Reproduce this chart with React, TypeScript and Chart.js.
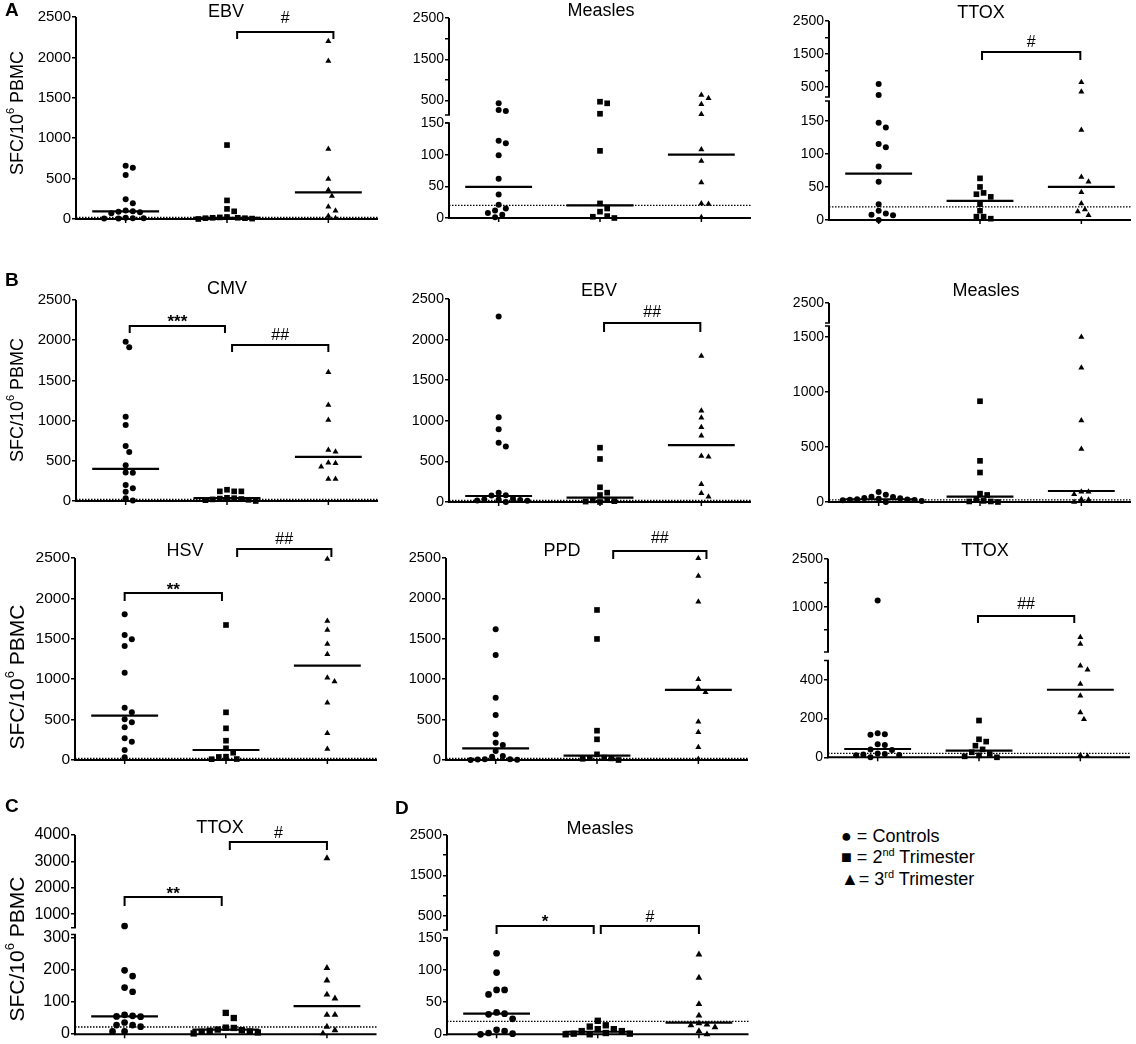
import React, { useEffect, useRef } from 'react';
import { Chart, registerables, LinearScale } from 'chart.js';

Chart.register(...registerables);

const FONT = "'Liberation Sans', Arial, Helvetica, sans-serif";

// ---------- categories & constants ----------
const groups = ['Controls', '2nd Trimester', '3rd Trimester'];
const cutoff = 20;

// ---------- data (SFC / 10^6 PBMC) ----------
// A – EBV
const aEbvControls = [660, 635, 545, 245, 195, 105, 95, 90, 85, 70, 15, 10, 10, 5, 5];
const aEbvSecond = [915, 230, 125, 95, 25, 20, 15, 15, 10, 10, 5, 0];
const aEbvThird = [2200, 1956, 867, 495, 359, 285, 152, 103, 37, 10];
const aEbvMedians = [95, 15, 330];
// A – Measles
const aMeaControls = [433, 271, 247, 122, 118, 99, 62, 37, 21, 15, 12, 8, 5, 1];
const aMeaSecond = [472, 433, 180, 106, 23, 15, 10, 3, 2, 0];
const aMeaThird = [634, 554, 409, 167, 108, 90, 56, 23, 22, 1];
const aMeaMedians = [49, 20, 100];
// A – TTOX
const aTtoxControls = [594, 260, 147, 140, 115, 110, 81, 58, 24, 14, 10, 8, 7, 0];
const aTtoxSecond = [63, 50, 41, 39, 35, 24, 14, 5, 5, 2];
const aTtoxThird = [645, 360, 136, 65, 58, 42, 25, 16, 13, 7];
const aTtoxMedians = [70, 29, 50];
// B – CMV
const bCmvControls = [1982, 1912, 1049, 945, 684, 609, 444, 355, 352, 199, 158, 116, 33, 5];
const bCmvSecond = [140, 120, 120, 120, 40, 35, 30, 25, 20, 15, 10, 0];
const bCmvThird = [1601, 1194, 1008, 634, 613, 477, 469, 427, 274, 274];
const bCmvMedians = [400, 35, 550];
// B – EBV
const bEbvControls = [2283, 1043, 895, 731, 682, 115, 82, 80, 40, 30, 30, 25, 20, 15, 0];
const bEbvSecond = [669, 530, 181, 115, 86, 30, 20, 10, 5, 0];
const bEbvThird = [1799, 1125, 1039, 920, 817, 567, 558, 218, 107, 66];
const bEbvMedians = [74, 53, 700];
// B – Measles
const bMeaControls = [92, 65, 48, 45, 36, 35, 30, 25, 22, 20, 18, 15, 10, 0];
const bMeaSecond = [916, 374, 268, 76, 64, 25, 10, 5, 5, 0];
const bMeaThird = [1500, 1221, 740, 481, 94, 94, 70, 25, 20, 0];
const bMeaMedians = [25, 48, 100];
// B – HSV
const bHsvControls = [1804, 1547, 1494, 1411, 1081, 648, 590, 504, 467, 405, 268, 227, 124, 33];
const bHsvSecond = [1671, 590, 392, 239, 145, 90, 41, 38, 12, 10];
const bHsvThird = [2488, 1721, 1609, 1436, 1308, 1019, 970, 710, 330, 136];
const bHsvMedians = [550, 124, 1168];
// B – PPD
const bPpdControls = [1618, 1300, 771, 557, 318, 214, 186, 111, 50, 41, 10, 8, 5, 3, 0];
const bPpdSecond = [1857, 1498, 363, 256, 70, 30, 25, 20, 15, 0];
const bPpdThird = [2497, 2278, 1960, 999, 895, 838, 474, 343, 157, 12];
const bPpdMedians = [144, 53, 867];
// B – TTOX
const bTtoxControls = [1200, 124, 119, 116, 67, 64, 40, 38, 20, 17, 15, 12, 10, 0];
const bTtoxSecond = [190, 93, 81, 60, 41, 26, 17, 10, 5, 0];
const bTtoxThird = [663, 589, 473, 452, 378, 318, 231, 197, 10, 5];
const bTtoxMedians = [43, 34, 349];
// C – TTOX
const cTtoxControls = [550, 197, 179, 143, 130, 58, 55, 53, 52, 34, 26, 26, 21, 6, 6];
const cTtoxSecond = [64, 48, 18, 17, 12, 10, 8, 6, 5, 3, 0];
const cTtoxThird = [3121, 204, 165, 121, 109, 58, 58, 21, 10, 0];
const cTtoxMedians = [53, 12, 85];
// D – Measles
const dMeaControls = [126, 96, 69, 69, 62, 34, 32, 31, 24, 7, 5, 2, 1, 0];
const dMeaSecond = [21, 14, 12, 8, 8, 5, 5, 2, 1, 1, 0, 0];
const dMeaThird = [124, 88, 47, 29, 17, 15, 14, 11, 5, 0];
const dMeaMedians = [32, 4, 18];

// tick values
const ticksFull = [0, 500, 1000, 1500, 2000, 2500];
const ticksBroken150 = [0, 50, 100, 150, 500, 1000, 1500, 2000, 2500];
const minorBroken150 = [1000, 2000];
const ticksBMeasles = [0, 500, 1000, 1500, 2500];
const ticksBTtox = [0, 200, 400, 750, 1000, 1750, 2500];
const minorBTtox = [750, 1750];
const ticksCTtox = [0, 100, 200, 300, 1000, 2000, 3000, 4000];

// ---------- broken axis support ----------
type Seg = { v: number[]; y: number[] };

function valueToPageY(segs: Seg[], value: number): number {
  let seg = segs.find((s) => value >= s.v[0] && value <= s.v[s.v.length - 1]);
  if (!seg) seg = value < segs[0].v[0] ? segs[0] : segs[segs.length - 1];
  const { v, y } = seg;
  let i = 0;
  while (i < v.length - 2 && value > v[i + 1]) i++;
  const t = (value - v[i]) / (v[i + 1] - v[i]);
  return y[i] + t * (y[i + 1] - y[i]);
}

const segStore = new WeakMap<HTMLCanvasElement, { segs: Seg[]; yTop: number; y0: number }>();

class BrokenScale extends (LinearScale as any) {
  static id = 'broken';
  static defaults = (LinearScale as any).defaults;
  getPixelForValue(value: number) {
    const info = segStore.get((this as any).chart.canvas);
    if (!info || value == null || isNaN(value)) return super.getPixelForValue(value);
    const py = valueToPageY(info.segs, value);
    return (this as any).getPixelForDecimal((info.y0 - py) / (info.y0 - info.yTop));
  }
}
Chart.register(BrokenScale as any);

// ---------- panel layout ----------
type Bracket = { x1: number; x2: number; y: number; leg: number; text: string; ty: number };
type Panel = {
  title: string; tx: number; ty: number;
  data: number[][]; med: number[];
  axisX: number; yTop: number; y0: number; top: number; bottom: number;
  segs: Seg[]; ticks: number[]; minor: number[]; tickSize: number;
  brackets: Bracket[];
  yTitle?: { x: number; y: number; size: number };
  pt: number;
};

const panels: Panel[] = [
  {
    title: 'EBV', tx: 226, ty: 12.5, data: [aEbvControls, aEbvSecond, aEbvThird], med: aEbvMedians,
    axisX: 76, yTop: 17, y0: 219, top: 0, bottom: 240,
    segs: [{ v: [0, 2500], y: [219, 17] }], ticks: ticksFull, minor: [], tickSize: 15,
    brackets: [{ x1: 1.1, x2: 2.05, y: 32, leg: 7, text: '#', ty: 19 }],
    yTitle: { x: 18, y: 113, size: 18 }, pt: 1,
  },
  {
    title: 'Measles', tx: 601, ty: 11, data: [aMeaControls, aMeaSecond, aMeaThird], med: aMeaMedians,
    axisX: 449, yTop: 18, y0: 218, top: 0, bottom: 240,
    segs: [{ v: [0, 150], y: [218, 123] }, { v: [150, 2500], y: [115, 18] }],
    ticks: ticksBroken150, minor: minorBroken150, tickSize: 14,
    brackets: [], pt: 1,
  },
  {
    title: 'TTOX', tx: 981, ty: 13, data: [aTtoxControls, aTtoxSecond, aTtoxThird], med: aTtoxMedians,
    axisX: 829, yTop: 21, y0: 220, top: 0, bottom: 240,
    segs: [{ v: [0, 180], y: [220, 101] }, { v: [200, 2500], y: [97, 21] }],
    ticks: ticksBroken150, minor: minorBroken150, tickSize: 14,
    brackets: [{ x1: 1.02, x2: 1.99, y: 52, leg: 8, text: '#', ty: 43 }], pt: 1,
  },
  {
    title: 'CMV', tx: 227, ty: 289, data: [bCmvControls, bCmvSecond, bCmvThird], med: bCmvMedians,
    axisX: 76, yTop: 300, y0: 501, top: 272, bottom: 520,
    segs: [{ v: [0, 2500], y: [501, 300] }], ticks: ticksFull, minor: [], tickSize: 15,
    brackets: [
      { x1: 0.04, x2: 0.98, y: 326, leg: 7, text: '***', ty: 318 },
      { x1: 1.05, x2: 2.0, y: 345, leg: 7, text: '##', ty: 336 },
    ],
    yTitle: { x: 18, y: 400, size: 18 }, pt: 1,
  },
  {
    title: 'EBV', tx: 599, ty: 291, data: [bEbvControls, bEbvSecond, bEbvThird], med: bEbvMedians,
    axisX: 449, yTop: 299, y0: 502, top: 272, bottom: 520,
    segs: [{ v: [0, 2500], y: [502, 299] }], ticks: ticksFull, minor: [], tickSize: 14.5,
    brackets: [{ x1: 1.04, x2: 1.99, y: 323, leg: 9, text: '##', ty: 313 }], pt: 1,
  },
  {
    title: 'Measles', tx: 986, ty: 291, data: [bMeaControls, bMeaSecond, bMeaThird], med: bMeaMedians,
    axisX: 829, yTop: 303, y0: 502, top: 272, bottom: 520,
    segs: [{ v: [0, 1600], y: [502, 326] }, { v: [2300, 2500], y: [323, 303] }],
    ticks: ticksBMeasles, minor: [], tickSize: 14,
    brackets: [], pt: 1,
  },
  {
    title: 'HSV', tx: 185, ty: 551, data: [bHsvControls, bHsvSecond, bHsvThird], med: bHsvMedians,
    axisX: 75, yTop: 558, y0: 760, top: 525, bottom: 778,
    segs: [{ v: [0, 2500], y: [760, 558] }], ticks: ticksFull, minor: [], tickSize: 15.5,
    brackets: [
      { x1: 1.11, x2: 2.04, y: 549, leg: 8, text: '##', ty: 540 },
      { x1: 0, x2: 0.96, y: 593, leg: 8, text: '**', ty: 586 },
    ],
    yTitle: { x: 18, y: 677, size: 21 }, pt: 1,
  },
  {
    title: 'PPD', tx: 562, ty: 551, data: [bPpdControls, bPpdSecond, bPpdThird], med: bPpdMedians,
    axisX: 446, yTop: 558, y0: 760, top: 525, bottom: 778,
    segs: [{ v: [0, 2500], y: [760, 558] }], ticks: ticksFull, minor: [], tickSize: 14.5,
    brackets: [{ x1: 1.16, x2: 2.08, y: 551, leg: 8, text: '##', ty: 539 }], pt: 1,
  },
  {
    title: 'TTOX', tx: 985, ty: 551, data: [bTtoxControls, bTtoxSecond, bTtoxThird], med: bTtoxMedians,
    axisX: 828, yTop: 558.7, y0: 757.3, top: 525, bottom: 778,
    segs: [{ v: [0, 500], y: [757.3, 660.5] }, { v: [500, 1000, 2500], y: [652, 607, 558.7] }],
    ticks: ticksBTtox, minor: minorBTtox, tickSize: 14,
    brackets: [{ x1: 0.99, x2: 1.94, y: 616, leg: 7, text: '##', ty: 605 }], pt: 1,
  },
  {
    title: 'TTOX', tx: 220, ty: 828, data: [cTtoxControls, cTtoxSecond, cTtoxThird], med: cTtoxMedians,
    axisX: 75, yTop: 835, y0: 1034.3, top: 790, bottom: 1044,
    segs: [{ v: [0, 310], y: [1034.3, 934.5] }, { v: [500, 4000], y: [927.75, 835] }],
    ticks: ticksCTtox, minor: [], tickSize: 16,
    brackets: [
      { x1: 1.04, x2: 2.0, y: 842, leg: 8, text: '#', ty: 834 },
      { x1: 0, x2: 0.96, y: 897, leg: 9, text: '**', ty: 890 },
    ],
    yTitle: { x: 18, y: 949, size: 21 }, pt: 1.12,
  },
  {
    title: 'Measles', tx: 600, ty: 829, data: [dMeaControls, dMeaSecond, dMeaThird], med: dMeaMedians,
    axisX: 447, yTop: 835, y0: 1034.3, top: 790, bottom: 1044,
    segs: [{ v: [0, 150], y: [1034.3, 937.8] }, { v: [150, 2500], y: [930, 835] }],
    ticks: ticksBroken150, minor: minorBroken150, tickSize: 14.5,
    brackets: [
      { x1: 0, x2: 0.96, y: 926, leg: 8, text: '*', ty: 918 },
      { x1: 1.03, x2: 2.0, y: 926, leg: 8, text: '#', ty: 918 },
    ],
    pt: 1.12,
  },
];

const X_MIN = -0.49;
const X_MAX = 2.49;
const PLOT_W = 303;
const PXU = PLOT_W / (X_MAX - X_MIN);

function geom(p: Panel) {
  const cl = Math.max(0, p.axisX - 72);
  const cr = Math.min(1136, p.axisX + PLOT_W + 3);
  return { cl, cr, ct: p.top, cb: p.bottom, w: cr - cl, h: p.bottom - p.top };
}

// simple swarm layout so points with similar values do not overlap
function swarm(values: number[], segs: Seg[], minD: number, step: number): number[] {
  const placed: { x: number; y: number }[] = [];
  return values.map((v) => {
    const y = valueToPageY(segs, v);
    for (let k = 0; k < 80; k++) {
      const off = k === 0 ? 0 : (k % 2 ? 1 : -1) * Math.ceil(k / 2) * step;
      if (placed.every((q) => Math.hypot(q.x - off, q.y - y) >= minD)) {
        placed.push({ x: off, y });
        return off;
      }
    }
    return 0;
  });
}

const pointStyles = ['circle', 'rect', 'triangle'];
const baseRadii = [3.0, 4.0, 3.5];

function buildChart(canvas: HTMLCanvasElement, p: Panel) {
  const g = geom(p);
  segStore.set(canvas, { segs: p.segs, yTop: p.yTop, y0: p.y0 });
  const datasets: any[] = [];

  datasets.push({
    label: 'cutoff',
    data: [{ x: X_MIN, y: cutoff }, { x: X_MAX, y: cutoff }],
    showLine: true, borderColor: '#000', borderWidth: 1.3, borderDash: [1.5, 1.5],
    pointRadius: 0, clip: false,
  });

  p.data.forEach((vals, gi) => {
    const offs = swarm(vals, p.segs, 6.6 * p.pt, 3.6 * p.pt);
    datasets.push({
      label: groups[gi],
      data: vals.map((v, k) => ({ x: gi + offs[k] / PXU, y: v })),
      showLine: false, pointStyle: pointStyles[gi], pointRadius: baseRadii[gi] * p.pt,
      pointBackgroundColor: '#000', pointBorderColor: '#000', pointBorderWidth: 0,
      clip: false,
    });
  });

  p.med.forEach((m, gi) => {
    datasets.push({
      label: 'median ' + groups[gi],
      data: [{ x: gi - 0.33, y: m }, { x: gi + 0.33, y: m }],
      showLine: true, borderColor: '#000', borderWidth: 2.2, pointRadius: 0, clip: false,
    });
  });

  const L = (y: number) => y - g.ct;
  const X = (x: number) => x - g.cl;

  const deco = {
    id: 'deco',
    afterDraw(chart: any) {
      const ctx = chart.ctx;
      const ca = chart.chartArea;
      const xs = chart.scales.x;
      ctx.save();
      ctx.strokeStyle = '#000';
      ctx.fillStyle = '#000';
      const ax = ca.left;
      // y axis (possibly broken)
      p.segs.forEach((s, i) => {
        const yb = L(s.y[0]);
        const yt = L(s.y[s.y.length - 1]);
        ctx.lineWidth = 2;
        ctx.beginPath();
        ctx.moveTo(ax, yb + (i === 0 ? 1 : 0));
        ctx.lineTo(ax, yt);
        ctx.stroke();
        if (p.segs.length > 1) {
          ctx.lineWidth = 1.5;
          if (i < p.segs.length - 1) {
            ctx.beginPath(); ctx.moveTo(ax - 4, yt); ctx.lineTo(ax + 1, yt); ctx.stroke();
          }
          if (i > 0) {
            ctx.beginPath(); ctx.moveTo(ax - 4, yb); ctx.lineTo(ax + 1, yb); ctx.stroke();
          }
        }
      });
      // x axis
      const y0 = L(p.y0);
      ctx.lineWidth = 2;
      ctx.beginPath(); ctx.moveTo(ax - 1, y0); ctx.lineTo(ca.right, y0); ctx.stroke();
      ctx.lineWidth = 1.5;
      for (let gi = 0; gi < groups.length; gi++) {
        const gx = xs.getPixelForValue(gi);
        ctx.beginPath(); ctx.moveTo(gx, y0); ctx.lineTo(gx, y0 + 4); ctx.stroke();
      }
      // significance brackets
      p.brackets.forEach((b) => {
        const x1 = xs.getPixelForValue(b.x1);
        const x2 = xs.getPixelForValue(b.x2);
        const by = L(b.y);
        ctx.lineWidth = 2;
        ctx.beginPath();
        ctx.moveTo(x1, by + b.leg); ctx.lineTo(x1, by); ctx.lineTo(x2, by); ctx.lineTo(x2, by + b.leg);
        ctx.stroke();
        const star = b.text.includes('*');
        ctx.font = star ? `bold 17px ${FONT}` : `16px ${FONT}`;
        ctx.textAlign = 'center';
        ctx.textBaseline = 'middle';
        ctx.fillText(b.text, (x1 + x2) / 2, L(b.ty) + (star ? 4 : 0));
      });
      // title
      ctx.font = `18px ${FONT}`;
      ctx.textAlign = 'center';
      ctx.textBaseline = 'middle';
      ctx.fillText(p.title, X(p.tx), L(p.ty));
      // y axis title with superscript
      if (p.yTitle) {
        const { x, y, size } = p.yTitle;
        ctx.save();
        ctx.translate(X(x), L(y));
        ctx.rotate(-Math.PI / 2);
        ctx.textAlign = 'left';
        ctx.textBaseline = 'middle';
        const mainF = `${size}px ${FONT}`;
        const supF = `${Math.round(size * 0.62)}px ${FONT}`;
        ctx.font = mainF;
        const w1 = ctx.measureText('SFC/10').width;
        const w3 = ctx.measureText(' PBMC').width;
        ctx.font = supF;
        const w2 = ctx.measureText('6').width;
        let x0 = -(w1 + w2 + w3) / 2;
        ctx.font = mainF;
        ctx.fillText('SFC/10', x0, 0);
        x0 += w1;
        ctx.font = supF;
        ctx.fillText('6', x0, -size * 0.38);
        x0 += w2;
        ctx.font = mainF;
        ctx.fillText(' PBMC', x0, 0);
        ctx.restore();
      }
      ctx.restore();
    },
  };

  const lastSeg = p.segs[p.segs.length - 1];
  return new Chart(canvas, {
    type: 'scatter',
    data: { datasets },
    options: {
      animation: false,
      responsive: false,
      events: [],
      layout: {
        padding: { top: p.yTop - g.ct, bottom: g.cb - p.y0, left: 0, right: g.cr - (p.axisX + PLOT_W) },
      },
      plugins: { legend: { display: false }, tooltip: { enabled: false }, title: { display: false } },
      scales: {
        x: { type: 'linear', display: false, min: X_MIN, max: X_MAX },
        y: {
          type: 'broken' as any,
          min: 0,
          max: lastSeg.v[lastSeg.v.length - 1],
          afterFit: (s: any) => { s.width = p.axisX - g.cl; },
          afterBuildTicks: (s: any) => { s.ticks = p.ticks.map((v) => ({ value: v })); },
          grid: { display: true, drawOnChartArea: false, drawTicks: true, tickLength: 4, color: '#000', lineWidth: 1.5 },
          border: { display: false },
          ticks: {
            autoSkip: false,
            padding: 1,
            color: '#000',
            font: { family: FONT, size: p.tickSize },
            callback: (v: any) => (p.minor.includes(Number(v)) ? '' : String(v)),
          },
        } as any,
      },
    },
    plugins: [deco],
  } as any);
}

const letters = [
  { t: 'A', x: 5, y: 0 },
  { t: 'B', x: 5, y: 270 },
  { t: 'C', x: 5, y: 796 },
  { t: 'D', x: 395, y: 798 },
];

export default function App() {
  const refs = useRef<(HTMLCanvasElement | null)[]>([]);

  useEffect(() => {
    const charts = panels.map((p, i) => buildChart(refs.current[i] as HTMLCanvasElement, p));
    return () => charts.forEach((c) => c.destroy());
  }, []);

  return (
    <div style={{ position: 'absolute', left: 0, top: 0, width: 1136, height: 1044, background: '#fff', fontFamily: FONT, color: '#000', overflow: 'hidden' }}>
      {panels.map((p, i) => {
        const g = geom(p);
        return (
          <canvas
            key={i}
            ref={(el) => { refs.current[i] = el; }}
            width={g.w}
            height={g.h}
            style={{ position: 'absolute', left: g.cl, top: g.ct, width: g.w, height: g.h }}
          />
        );
      })}
      {letters.map((l) => (
        <div key={l.t} style={{ position: 'absolute', left: l.x, top: l.y, fontSize: 19, fontWeight: 'bold', lineHeight: '20px' }}>{l.t}</div>
      ))}
      <div style={{ position: 'absolute', left: 841, top: 826, fontSize: 18, lineHeight: '20.5px', whiteSpace: 'nowrap' }}>
        <div>● = Controls</div>
        <div>■ = 2<span style={{ fontSize: 11, position: 'relative', top: -7 }}>nd</span> Trimester</div>
        <div>▲= 3<span style={{ fontSize: 11, position: 'relative', top: -7 }}>rd</span> Trimester</div>
      </div>
    </div>
  );
}
